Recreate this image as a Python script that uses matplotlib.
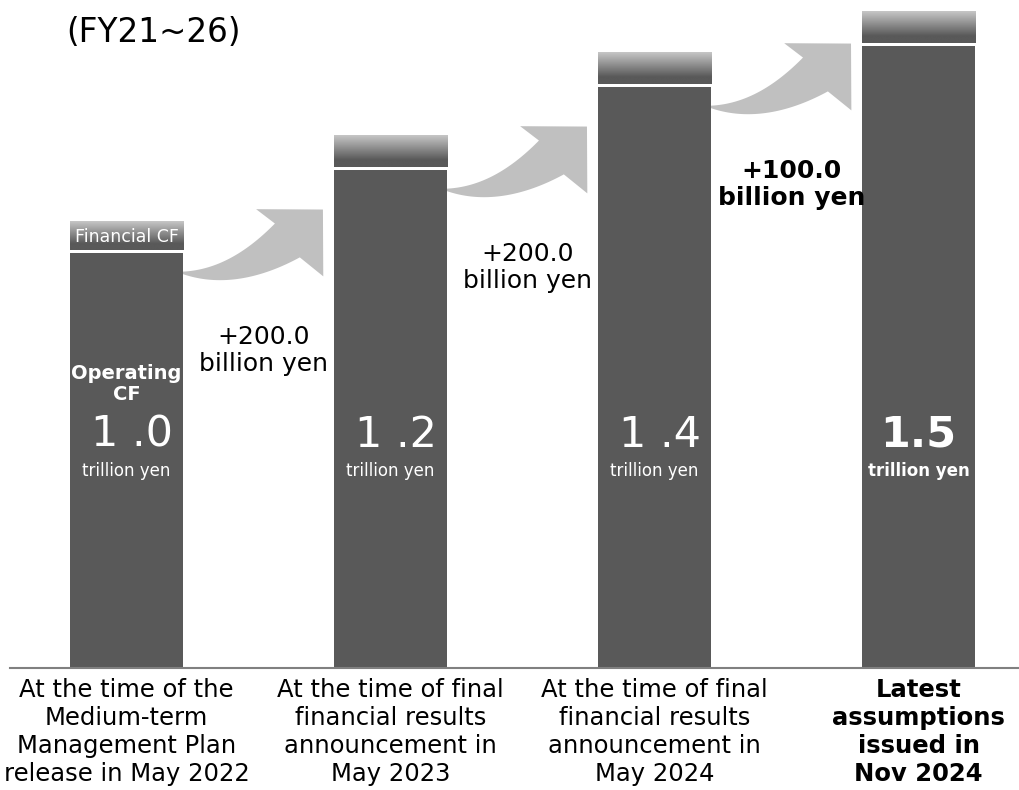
import numpy as np
import matplotlib.pyplot as plt
from matplotlib.colors import LinearSegmentedColormap
from matplotlib.patches import Polygon

# data (trillion yen)
categories = ['At the time of the\nMedium-term\nManagement Plan\nrelease in May 2022',
              'At the time of final\nfinancial results\nannouncement in\nMay 2023',
              'At the time of final\nfinancial results\nannouncement in\nMay 2024',
              'Latest\nassumptions\nissued in\nNov 2024']
operating_cf = [1.0, 1.2, 1.4, 1.5]
financial_cf = [0.075, 0.082, 0.084, 0.082]
value_labels = ['1 .0', '1 .2', '1 .4', '1.5']
step_labels = ['+200.0\nbillion yen', '+200.0\nbillion yen', '+100.0\nbillion yen']

dark = '#595959'
arrow_col = '#c0c0c0'
plt.rcParams['font.family'] = ['DejaVu Sans']

fig = plt.figure(figsize=(10.2, 7.9), dpi=100)
ax = fig.add_axes([0, 0, 1, 1])
ax.axis('off')

x = np.arange(len(operating_cf))
w = 0.428
ax.bar(x, operating_cf, width=w, color=dark, zorder=3)

# gradient top part (Financial CF)
cmap = LinearSegmentedColormap.from_list('g', [(0, dark), (0.22, dark), (1, '#c6c6c6')])
grad = np.linspace(0, 1, 100).reshape(-1, 1)
for i in range(len(x)):
    ax.imshow(grad, extent=[x[i] - w / 2, x[i] + w / 2, operating_cf[i] + 0.007, operating_cf[i] + financial_cf[i]],
              origin='lower', aspect='auto', cmap=cmap, zorder=3)
ax.set_xlim(-0.479, 3.384)
ax.set_ylim(-0.294, 1.610)

ax.axhline(0, xmin=0.01, xmax=1, color='#808080', lw=1.5, zorder=4)


def curved_arrow(p0, p1, tail_w=42, head_w=95, head_len=47):
    T = ax.transData
    a = T.transform(p0)
    b = T.transform(p1)
    # control point: tail leaves slightly downward, head points up-right at 45 deg
    da = np.array([1.0, -0.2])
    db = np.array([-1.0, -1.0])
    M = np.c_[da, -db]
    u, s = np.linalg.solve(M, b - a)
    c = a + u * da
    end_dir = (b - c) / np.hypot(*(b - c))
    base = b - end_dir * head_len
    t = np.linspace(0, 1, 400)
    pts = ((1 - t) ** 2)[:, None] * a + (2 * (1 - t) * t)[:, None] * c + (t ** 2)[:, None] * b
    keep = np.dot(pts - base, end_dir) <= 0
    body = pts[keep]
    tang = np.gradient(pts, axis=0)[keep]
    tang /= np.hypot(*tang.T)[:, None]
    nrm = np.c_[-tang[:, 1], tang[:, 0]]
    wid = np.linspace(0, tail_w / 2, len(body))[:, None]
    left = body + nrm * wid
    right = body - nrm * wid
    bn = np.array([-end_dir[1], end_dir[0]])
    poly = np.vstack([left, base + bn * head_w / 2, b, base - bn * head_w / 2, right[::-1]])
    ax.add_patch(Polygon(T.inverted().transform(poly), closed=True, color=arrow_col, lw=0, zorder=2))


for i in range(len(x) - 1):
    curved_arrow((x[i] + 0.19, operating_cf[i] - 0.045), (x[i] + 0.744, operating_cf[i] + 0.105))
    ax.text(x[i] + 0.52, operating_cf[i] - 0.235, step_labels[i], ha='center', va='center',
            fontsize=18, linespacing=1.15, fontweight='bold' if i == 2 else 'normal', zorder=5)

for i in range(len(x)):
    bold = 'bold' if i == 3 else 'normal'
    shift = 0.02 if ' ' in value_labels[i] else 0
    ax.text(x[i] + shift, 0.562, value_labels[i], ha='center', va='center', color='white',
            fontsize=31, fontweight=bold, zorder=5)
    ax.text(x[i], 0.475, 'trillion yen', ha='center', va='center', color='white',
            fontsize=12, fontweight=bold, zorder=5)
    ax.text(x[i], -0.025, categories[i], ha='center', va='top', fontsize=17.5,
            linespacing=1.2, fontweight=bold)

ax.text(x[0], 0.684, 'Operating\nCF', ha='center', va='center', color='white',
        fontsize=14, fontweight='bold', linespacing=1.1, zorder=5)
ax.text(x[0], operating_cf[0] + 0.04, 'Financial CF', ha='center', va='center', color='white',
        fontsize=12.5, zorder=5)

fig.text(66 / 1020, 1 - 32 / 790, '(FY21~26)', ha='left', va='center', fontsize=23.5)

fig.savefig('out.png', dpi=100)
